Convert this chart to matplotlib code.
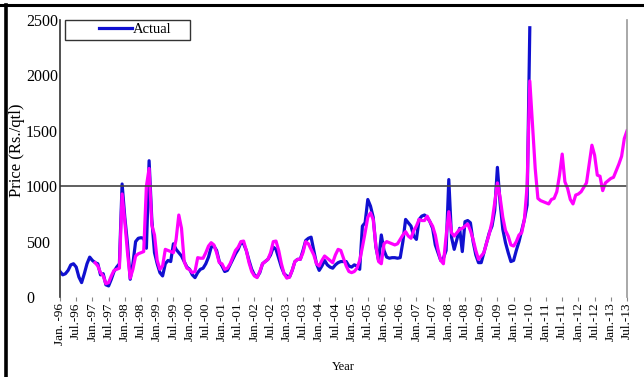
import matplotlib
matplotlib.use("Agg")
import matplotlib.pyplot as plt
from matplotlib.lines import Line2D
from matplotlib.patches import Rectangle
import numpy as np
import pandas as pd

plt.rcParams['font.family'] = ['Liberation Serif', 'DejaVu Serif']

# Monthly prices, Jan-1996 .. Jul-2013 (Rs./qtl)
months = pd.date_range("1996-01-01", "2013-07-01", freq="MS")

# Actual series (Jan-96 .. Jul-10)
actual = [
    230, 200, 210, 240, 290, 300, 270, 180, 130, 210, 300, 360,      # 1996
    330, 310, 300, 200, 210, 110, 100, 160, 230, 270, 300, 1020,     # 1997
    720, 480, 160, 300, 500, 530, 535, 530, 440, 1230, 700, 400,     # 1998
    300, 220, 190, 300, 330, 320, 480, 430, 400, 370, 320, 270,      # 1999
    250, 200, 175, 220, 250, 260, 300, 360, 450, 460, 420, 320,      # 2000
    280, 230, 240, 290, 340, 390, 430, 490, 480, 420, 330, 250,      # 2001
    200, 180, 220, 300, 320, 340, 380, 450, 430, 350, 270, 210,      # 2002
    190, 180, 240, 320, 340, 340, 420, 510, 530, 540, 420, 300,      # 2003
    240, 280, 330, 290, 270, 260, 290, 310, 320, 320, 320, 280,      # 2004
    270, 290, 280, 250, 640, 670, 880, 820, 720, 450, 330, 560,      # 2005
    420, 360, 350, 355, 355, 350, 355, 500, 700, 670, 640, 550,      # 2006
    520, 700, 730, 740, 720, 680, 620, 470, 400, 330, 350, 420,      # 2007
    1060, 540, 430, 520, 620, 410, 680, 690, 670, 500, 380, 310,     # 2008
    310, 400, 490, 580, 640, 780, 1170, 850, 610, 490, 400, 320,     # 2009
    330, 420, 500, 600, 700, 830, 2430,                               # 2010
]

# Predicted series (Feb-97 .. Jul-13)
predicted = [
    310, 280, 220, 190, 120, 130, 190, 240, 250, 260, 930,           # 1997
    680, 400, 170, 250, 370, 390, 400, 410, 1000, 1160, 650, 560,    # 1998
    330, 250, 280, 430, 420, 410, 400, 520, 740, 620, 320, 260,      # 1999
    246, 220, 230, 355, 350, 350, 400, 460, 490, 470, 400, 310,      # 2000
    300, 250, 260, 300, 360, 420, 450, 500, 505, 420, 310, 230,      # 2001
    190, 175, 230, 300, 320, 340, 400, 500, 505, 420, 300, 210,      # 2002
    170, 180, 240, 320, 340, 340, 400, 500, 480, 430, 380, 300,      # 2003
    280, 330, 370, 350, 330, 310, 380, 430, 420, 350, 280, 230,      # 2004
    220, 230, 260, 330, 450, 580, 720, 760, 700, 460, 320, 300,      # 2005
    480, 500, 490, 480, 470, 480, 520, 560, 590, 550, 530, 600,      # 2006
    640, 700, 690, 690, 730, 680, 640, 560, 430, 330, 300, 550,      # 2007
    770, 580, 550, 580, 610, 620, 640, 660, 600, 520, 420, 340,      # 2008
    370, 400, 490, 570, 680, 850, 1030, 900, 720, 600, 550, 470,     # 2009
    460, 500, 560, 580, 700, 1000, 1950, 1550, 1160, 890, 870, 860,  # 2010
    850, 840, 880, 890, 950, 1100, 1290, 1040, 980, 880, 840, 920,   # 2011
    930, 950, 990, 1030, 1200, 1370, 1280, 1100, 1090, 960, 1030, 1050,  # 2012
    1070, 1080, 1140, 1200, 1270, 1430, 1500,                        # 2013
]

tick_labels = [
    "Jan. -96", "Jul.-96", "Jan.-97", "Jul.-97", "Jan.-98", "Jul.-98",
    "Jan.-99", "Jul.-99", "Jan.-00", "Jul.-00", "Jan.-01", "Jul.-01",
    "Jan.-02", "Jul.-02", "Jan.-03", "Jul.-03", "Jan.-04", "Jul.-04",
    "Jan.-05", "Jul.-05", "Jan.-06", "Jul.-06", "Jan.-07", "Jul.-07",
    "Jan.-08", "Jul.-08", "Jan.-09", "Jul.-09", "Jan.-10", "Jul.-10",
    "Jan.-11", "Jul.-11", "Jan.-12", "Jul.-12", "Jan.-13", "Jul.-13",
]

x = np.arange(len(months))
x_act = x[:len(actual)]
x_pred = x[len(months) - len(predicted):]

fig = plt.figure(figsize=(6.44, 3.77), dpi=100)
ax = fig.add_axes([60 / 644, 1 - 297 / 377, 567 / 644, 277 / 377])

ax.plot(x_act, actual, color="#1010d0", lw=2.3, label="Actual")
ax.plot(x_pred, predicted, color="#ff00ff", lw=2.3, label="_nolegend_")
ax.axhline(1000, color="#444444", lw=1.2)

ax.set_xlim(0, 210)
ax.set_ylim(0, 2500)
ax.set_yticks([0, 500, 1000, 1500, 2000, 2500])
ax.set_xticks(np.arange(0, 211, 6))
ax.set_xticklabels(tick_labels, rotation=90, fontsize=9.5)
ax.tick_params(axis='y', length=0, labelsize=11.5, pad=24.5)
for lab in ax.get_yticklabels():
    lab.set_horizontalalignment("left")
ax.tick_params(axis='x', length=3, color="#888888", pad=1)

for s in ("top", "bottom"):
    ax.spines[s].set_visible(False)
ax.spines["left"].set_color("#333333")
ax.spines["left"].set_linewidth(1.2)
ax.spines["right"].set_color("#999999")
ax.spines["right"].set_linewidth(1.2)

ax.set_ylabel("Price (Rs./qtl)", fontsize=12)
ax.yaxis.set_label_coords(-0.061, 0.53)
ax.set_xlabel("Year", fontsize=9, labelpad=12)

# legend box (only the "Actual" entry is shown)
ax.add_patch(Rectangle((5 / 567, 1 - 20 / 277), 125 / 567, 20 / 277,
                       transform=ax.transAxes, fill=False,
                       edgecolor="#333333", lw=1.0, clip_on=False, zorder=5))
leg = ax.legend(loc="upper left", bbox_to_anchor=(36 / 567, 1.0),
                borderaxespad=0, fontsize=10.5, frameon=False,
                handlelength=2.3, handletextpad=0.0, borderpad=0.2)

# outer frame: top and left edges only
fig.add_artist(Line2D([0, 1], [1 - 5 / 377] * 2, transform=fig.transFigure,
                      color="black", lw=2.2))
fig.add_artist(Line2D([6 / 644] * 2, [0, 1 - 5 / 377], transform=fig.transFigure,
                      color="black", lw=2.6))

plt.savefig("out.png", dpi=100)
plt.close()
